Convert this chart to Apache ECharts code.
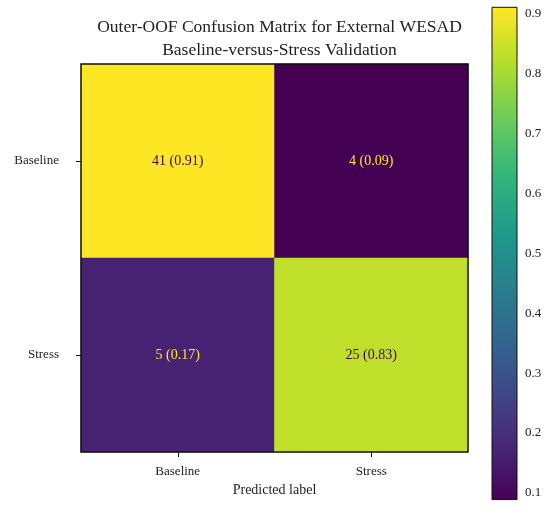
<!DOCTYPE html>
<html>
<head>
<meta charset="utf-8">
<script src="https://cdn.jsdelivr.net/npm/echarts@6/dist/echarts.min.js"></script>
<style>
html, body { margin: 0; padding: 0; background: #fff; }
#main { width: 550px; height: 517px; }
</style>
</head>
<body>
<div id="main"></div>
<script>
// confusion matrix data (rows = true label, cols = predicted label)
var classes = ['Baseline', 'Stress'];
var counts = [[41, 4], [5, 25]];
var cbTicks = [0.1, 0.2, 0.3, 0.4, 0.5, 0.6, 0.7, 0.8, 0.9];
var viridis = ['#440154', '#482878', '#3e4989', '#31688e', '#26828e',
               '#1f9e89', '#35b779', '#6ece58', '#b5de2b', '#fde725'];

var FONT = "'Liberation Serif', 'DejaVu Serif', serif";

// row-normalised ratios
var ratios = counts.map(function (row) {
    var s = row.reduce(function (a, b) { return a + b; }, 0);
    return row.map(function (c) { return c / s; });
});
var flat = [].concat.apply([], ratios);
var vmin = Math.min.apply(null, flat);
var vmax = Math.max.apply(null, flat);
var mid = (vmin + vmax) / 2;

var cells = [];
counts.forEach(function (row, i) {
    row.forEach(function (c, j) {
        var r = ratios[i][j];
        cells.push({
            value: [j, i, r, c],
            label: { color: r < mid ? viridis[viridis.length - 1] : viridis[0] }
        });
    });
});

var stops = viridis.map(function (c, k) {
    return { offset: k / (viridis.length - 1), color: c };
});

var myChart = echarts.init(document.getElementById('main'));

option = {
    backgroundColor: '#fff',
    animation: false,
    title: {
        text: 'Outer-OOF Confusion Matrix for External WESAD\nBaseline-versus-Stress Validation',
        left: 274.5,
        top: 11,
        textAlign: 'center',
        textStyle: { fontFamily: FONT, fontSize: 17.5, fontWeight: 'normal', color: '#222', lineHeight: 23 }
    },
    grid: [
        { left: 81, top: 64, width: 387, height: 388, show: true, z: 5, outerBoundsMode: 'none',
          backgroundColor: 'transparent', borderColor: '#111', borderWidth: 1.5 },
        { left: 492, top: 7.3, width: 25, height: 492.3, show: true, z: 5, outerBoundsMode: 'none',
          backgroundColor: 'transparent', borderColor: '#111', borderWidth: 1 }
    ],
    xAxis: [
        {
            type: 'category', gridIndex: 0, data: classes, position: 'bottom',
            name: 'Predicted label', nameLocation: 'middle', nameGap: 24,
            nameTextStyle: { fontFamily: FONT, fontSize: 14, color: '#222' },
            axisLine: { show: false },
            axisTick: { show: true, alignWithLabel: true, length: 5, lineStyle: { color: '#111' } },
            axisLabel: { fontFamily: FONT, fontSize: 13, color: '#222', margin: 13 },
            splitLine: { show: false }
        },
        {
            type: 'value', gridIndex: 1, min: 0, max: 1, show: false
        }
    ],
    yAxis: [
        {
            type: 'category', gridIndex: 0, data: classes, inverse: true,
            name: 'True label', nameLocation: 'middle', nameGap: 69, nameRotate: 90,
            nameTextStyle: { fontFamily: FONT, fontSize: 14, color: '#222' },
            axisLine: { show: false },
            axisTick: { show: true, alignWithLabel: true, length: 5, lineStyle: { color: '#111' } },
            axisLabel: { fontFamily: FONT, fontSize: 13, color: '#222', margin: 22 },
            splitLine: { show: false }
        },
        {
            type: 'value', gridIndex: 1, min: vmin, max: vmax, position: 'right',
            axisLine: { show: false },
            axisTick: { show: true, length: 4, customValues: cbTicks, lineStyle: { color: '#111' } },
            axisLabel: {
                fontFamily: FONT, fontSize: 13, color: '#222', margin: 8,
                customValues: cbTicks,
                formatter: function (v) { return v.toFixed(1); }
            },
            splitLine: { show: false }
        }
    ],
    visualMap: {
        show: false,
        type: 'continuous',
        seriesIndex: 0,
        dimension: 2,
        min: vmin,
        max: vmax,
        inRange: { color: viridis }
    },
    series: [
        {
            type: 'heatmap',
            xAxisIndex: 0,
            yAxisIndex: 0,
            data: cells,
            label: {
                show: true,
                fontFamily: FONT,
                fontSize: 14,
                formatter: function (p) {
                    return p.value[3] + ' (' + p.value[2].toFixed(2) + ')';
                }
            },
            emphasis: { disabled: true }
        },
        {
            // colour bar
            type: 'custom',
            xAxisIndex: 1,
            yAxisIndex: 1,
            data: [[vmin, vmax]],
            encode: { y: [0, 1] },
            silent: true,
            renderItem: function (params, api) {
                var p0 = api.coord([0, api.value(0)]);
                var p1 = api.coord([1, api.value(1)]);
                return {
                    type: 'rect',
                    shape: { x: p0[0], y: p1[1], width: p1[0] - p0[0], height: p0[1] - p1[1] },
                    style: { fill: new echarts.graphic.LinearGradient(0, 1, 0, 0, stops) }
                };
            }
        }
    ]
};
myChart.setOption(option);
</script>
</body>
</html>
